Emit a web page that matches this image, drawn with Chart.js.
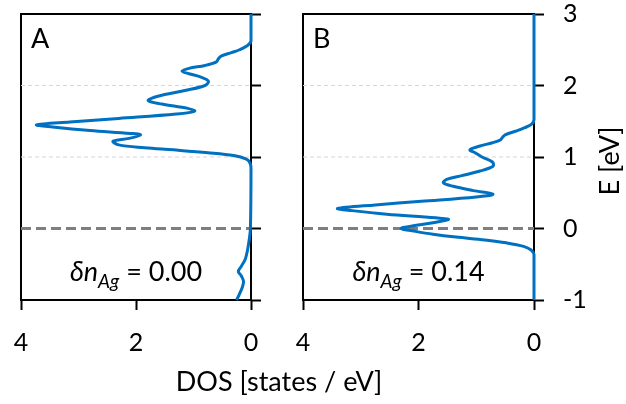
<!DOCTYPE html>
<html>
<head>
<meta charset="utf-8">
<script src="https://cdn.jsdelivr.net/npm/chart.js@4.4.1/dist/chart.umd.min.js"></script>
<style>
  html, body { margin: 0; padding: 0; background: #fff; }
  #wrap { position: relative; width: 626px; height: 404px; }
  #wrap canvas { position: absolute; left: 0; top: 0; }
</style>
</head>
<body>
<div id="wrap">
  <canvas id="panelA" width="626" height="404"></canvas>
  <canvas id="panelB" width="626" height="404"></canvas>
</div>
<script>
// --- data (energy in eV, DOS in states/eV) ---
const energyA = [3.00, 2.80, 2.62, 2.56, 2.50, 2.46, 2.41, 2.37, 2.33, 2.28, 2.24, 2.20, 2.17, 2.12, 2.06, 2.00,
  1.93, 1.85, 1.79, 1.74, 1.68, 1.64, 1.60, 1.54, 1.49, 1.45, 1.42, 1.37, 1.33, 1.31, 1.26, 1.22, 1.17,
  1.13, 1.10, 1.06, 1.02, 0.97, 0.92, 0.85, 0.00, -0.15, -0.30, -0.43, -0.53, -0.60, -0.66, -0.74, -0.82,
  -0.88, -0.95, -1.00];
const dosA = [0.00, 0.00, 0.00, 0.06, 0.20, 0.34, 0.52, 0.57, 0.60, 0.80, 1.08, 1.20, 1.10, 0.88, 0.74, 0.80,
  1.15, 1.62, 1.79, 1.55, 1.10, 0.98, 1.30, 2.30, 3.15, 3.73, 3.45, 2.80, 2.10, 1.92, 2.12, 2.40, 2.30,
  1.85, 1.35, 0.75, 0.30, 0.08, 0.02, 0.00, 0.01, 0.03, 0.06, 0.10, 0.17, 0.22, 0.17, 0.13, 0.15,
  0.18, 0.22, 0.25];

const energyB = [3.00, 1.52, 1.46, 1.41, 1.36, 1.31, 1.27, 1.24, 1.20, 1.15, 1.10, 1.06, 1.00, 0.93, 0.87,
  0.80, 0.74, 0.69, 0.64, 0.59, 0.53, 0.48, 0.44, 0.38, 0.33, 0.28, 0.25, 0.20, 0.15, 0.125, 0.08,
  0.03, 0.00, -0.04, -0.08, -0.12, -0.16, -0.20, -0.25, -0.30, -0.36, -1.00];
const dosB = [0.00, 0.00, 0.04, 0.16, 0.32, 0.50, 0.55, 0.58, 0.72, 0.95, 1.11, 1.02, 0.90, 0.72, 0.71,
  0.95, 1.25, 1.50, 1.57, 1.40, 1.05, 0.71, 1.00, 1.95, 2.75, 3.40, 3.15, 2.55, 1.70, 1.48, 1.75,
  2.15, 2.30, 2.05, 1.75, 1.35, 0.85, 0.48, 0.18, 0.05, 0.00, 0.00];

const guideLevels = [1, 2];      // light dashed lines
const fermiLevel = 0;            // heavy dashed line
const dosRange = [0, 4];
const energyRange = [-1, 3];

const FONT = 'Lato';
const BLUE = '#0070c0';

function toPoints(energy, dos) {
  return energy.map((e, i) => ({ x: dos[i], y: e }));
}

function hLine(level) {
  return [{ x: dosRange[1], y: level }, { x: dosRange[0], y: level }];
}

// frame + texts drawn on top of the chart area
const panelDecor = {
  id: 'panelDecor',
  beforeDatasetsDraw(chart) {
    const { ctx, chartArea: a } = chart;
    ctx.save();
    ctx.strokeStyle = '#000';
    ctx.lineWidth = 2;
    ctx.beginPath();
    ctx.moveTo(a.left, a.bottom);
    ctx.lineTo(a.left, a.top);
    ctx.lineTo(a.right, a.top);
    ctx.stroke();
    ctx.restore();
  },
  afterDraw(chart, args, opts) {
    const { ctx, chartArea: a } = chart;
    ctx.save();
    ctx.fillStyle = '#000';
    ctx.textBaseline = 'alphabetic';

    // panel letter
    ctx.font = '27px ' + FONT;
    ctx.textAlign = 'left';
    ctx.fillText(opts.letter, a.left + 10, 48);

    // δn_Ag = value
    const base = 281;
    ctx.font = 'italic 27px ' + FONT;
    const w1 = ctx.measureText('δn').width;
    ctx.font = 'italic 19px ' + FONT;
    const w2 = ctx.measureText('Ag').width;
    ctx.font = '27px ' + FONT;
    const rest = ' = ' + opts.value;
    const w3 = ctx.measureText(rest).width;
    let x = (a.left + a.right) / 2 - (w1 + w2 + w3) / 2;
    ctx.font = 'italic 27px ' + FONT;
    ctx.fillText('δn', x, base);
    x += w1;
    ctx.font = 'italic 19px ' + FONT;
    ctx.fillText('Ag', x, base + 7);
    x += w2;
    ctx.font = '27px ' + FONT;
    ctx.fillText(rest, x, base);

    if (opts.yTitle) {
      ctx.save();
      ctx.translate(610, 161);
      ctx.rotate(-Math.PI / 2);
      ctx.textAlign = 'center';
      ctx.textBaseline = 'middle';
      ctx.font = '27px ' + FONT;
      ctx.fillText(opts.yTitle, 0, 0);
      ctx.restore();
    }
    if (opts.xTitle) {
      ctx.textAlign = 'center';
      ctx.textBaseline = 'middle';
      ctx.font = '27px ' + FONT;
      ctx.fillText(opts.xTitle, 279, 382);
    }
    ctx.restore();
  }
};

function makePanel(canvasId, energy, dos, left, right, decor, showEnergyLabels) {
  const ctx = document.getElementById(canvasId).getContext('2d');
  const datasets = [
    {
      data: toPoints(energy, dos),
      borderColor: BLUE,
      borderWidth: 3,
      tension: 0.35,
      clip: 4
    },
    {
      data: hLine(fermiLevel),
      borderColor: '#7f7f7f',
      borderWidth: 3,
      borderDash: [10, 5],
      tension: 0
    }
  ];
  guideLevels.forEach(l => {
    datasets.push({
      data: hLine(l),
      borderColor: '#d6d6d6',
      borderWidth: 1,
      borderDash: [4, 3],
      tension: 0
    });
  });

  return new Chart(ctx, {
    type: 'scatter',
    data: { datasets: datasets.map(d => Object.assign({ showLine: true, pointRadius: 0, fill: false }, d)) },
    plugins: [panelDecor],
    options: {
      responsive: false,
      animation: false,
      events: [],
      layout: { autoPadding: false, padding: { left: left, top: 14, right: 0, bottom: 0 } },
      plugins: {
        legend: { display: false },
        tooltip: { enabled: false },
        panelDecor: decor
      },
      scales: {
        x: {
          type: 'linear',
          position: 'bottom',
          min: dosRange[0],
          max: dosRange[1],
          reverse: true,
          afterFit: s => { s.height = 104; s.paddingLeft = 0; s.paddingRight = 0; },
          ticks: { stepSize: 2, color: '#000', padding: 20, maxRotation: 0, autoSkip: false,
                   font: { family: FONT, size: 25, lineHeight: 1 } },
          grid: { drawOnChartArea: false, drawTicks: true, tickLength: 10, tickWidth: 2, tickColor: '#000' },
          border: { display: true, color: '#000', width: 2 }
        },
        y: {
          type: 'linear',
          position: 'right',
          min: energyRange[0],
          max: energyRange[1],
          afterFit: s => { s.width = 626 - right; s.paddingTop = 0; s.paddingBottom = 0; },
          ticks: { display: showEnergyLabels, stepSize: 1, color: '#000', padding: 19,
                   font: { family: FONT, size: 25, lineHeight: 1 } },
          grid: { drawOnChartArea: false, drawTicks: true, tickLength: 10, tickWidth: 2, tickColor: '#000' },
          border: { display: true, color: '#000', width: 2 }
        }
      }
    }
  });
}

makePanel('panelA', energyA, dosA, 21, 251,
  { letter: 'A', value: '0.00', xTitle: 'DOS [states / eV]' }, false);
makePanel('panelB', energyB, dosB, 303, 534,
  { letter: 'B', value: '0.14', yTitle: 'E [eV]' }, true);
</script>
</body>
</html>
